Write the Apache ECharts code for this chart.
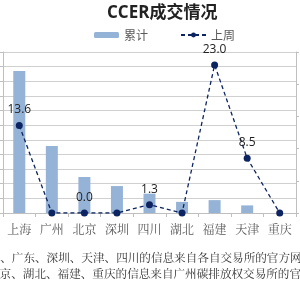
<!DOCTYPE html>
<html>
<head>
<meta charset="utf-8">
<script src="https://cdn.jsdelivr.net/npm/echarts@6/dist/echarts.min.js"></script>
<style>
  html, body { margin: 0; padding: 0; background: #fff; }
  #chart { width: 300px; height: 300px; }
</style>
</head>
<body>
<div id="chart"></div>
<script>
  var cities = ['上海', '广州', '北京', '深圳', '四川', '湖北', '福建', '天津', '重庆'];
  var totalVals = [48.5, 22.9, 12.3, 9.2, 6.6, 3.8, 4.4, 2.6, 0];
  var lastWeek = [13.6, 0, 0.0, 0, 1.3, 0, 23.0, 8.5, 0];
  var lastWeekLabeled = [true, false, true, false, true, false, true, true, false];
  var noteLines = [
    '上海、广东、深圳、天津、四川的信息来自各自交易所的官方网站',
    '北京、湖北、福建、重庆的信息来自广州碳排放权交易所的官方网站'
  ];

  var lineData = lastWeek.map(function (v, i) {
    return { value: v, label: { show: lastWeekLabeled[i] } };
  });

  var myChart = echarts.init(document.getElementById('chart'));
  myChart.setOption({
    animation: false,
    title: {
      text: 'CCER成交情况',
      left: 102,
      top: 0,
      textStyle: { fontSize: 17, fontWeight: 'bold', color: '#222', fontFamily: 'Open Sans, Noto Sans CJK SC' }
    },
    legend: {
      top: 24,
      left: 89,
      itemGap: 32,
      itemWidth: 25,
      itemHeight: 6,
      textStyle: { fontSize: 12, color: '#595959', fontFamily: 'Noto Sans CJK SC' },
      data: ['累计', '上周']
    },
    grid: { left: 3, right: 4, top: 52, bottom: 87, containLabel: false },
    xAxis: {
      type: 'category',
      data: cities,
      axisLine: { lineStyle: { color: '#bfbfbf' } },
      axisTick: { show: true, length: 4, lineStyle: { color: '#bfbfbf' } },
      axisLabel: { interval: 0, margin: 10, fontSize: 12, color: '#595959', fontFamily: 'Noto Serif CJK SC, Noto Sans CJK SC' }
    },
    yAxis: [
      {
        type: 'value',
        min: 0,
        max: 55,
        interval: 5,
        axisLine: { show: true, lineStyle: { color: '#bfbfbf' } },
        axisTick: { show: true, length: 3, lineStyle: { color: '#bfbfbf' } },
        axisLabel: { show: false },
        splitLine: { lineStyle: { color: '#d0d0d0' } }
      },
      {
        type: 'value',
        min: 0,
        max: 25,
        interval: 5,
        position: 'right',
        axisLine: { show: true, lineStyle: { color: '#bfbfbf' } },
        axisTick: { show: true, length: 3, lineStyle: { color: '#bfbfbf' } },
        axisLabel: { show: false },
        splitLine: { show: false }
      }
    ],
    series: [
      {
        name: '累计',
        type: 'bar',
        yAxisIndex: 0,
        barWidth: 12,
        itemStyle: { color: '#95b3d7' },
        data: totalVals
      },
      {
        name: '上周',
        type: 'line',
        yAxisIndex: 1,
        symbol: 'circle',
        symbolSize: 7,
        itemStyle: { color: '#0c2461' },
        lineStyle: { color: '#0c2461', width: 1.3, type: [4, 3] },
        label: {
          position: 'top',
          distance: 6,
          fontSize: 12,
          color: '#222',
          fontFamily: 'Open Sans, sans-serif',
          formatter: function (p) { return p.value.toFixed(1); }
        },
        data: lineData
      }
    ],
    graphic: noteLines.map(function (t, i) {
      return {
        type: 'text',
        left: i === 0 ? -23 : -12,
        top: 252 + i * 16,
        style: { text: t, fontSize: 11.6, fill: '#333', fontFamily: 'Noto Serif CJK SC, Noto Sans CJK SC' }
      };
    })
  });
</script>
</body>
</html>
